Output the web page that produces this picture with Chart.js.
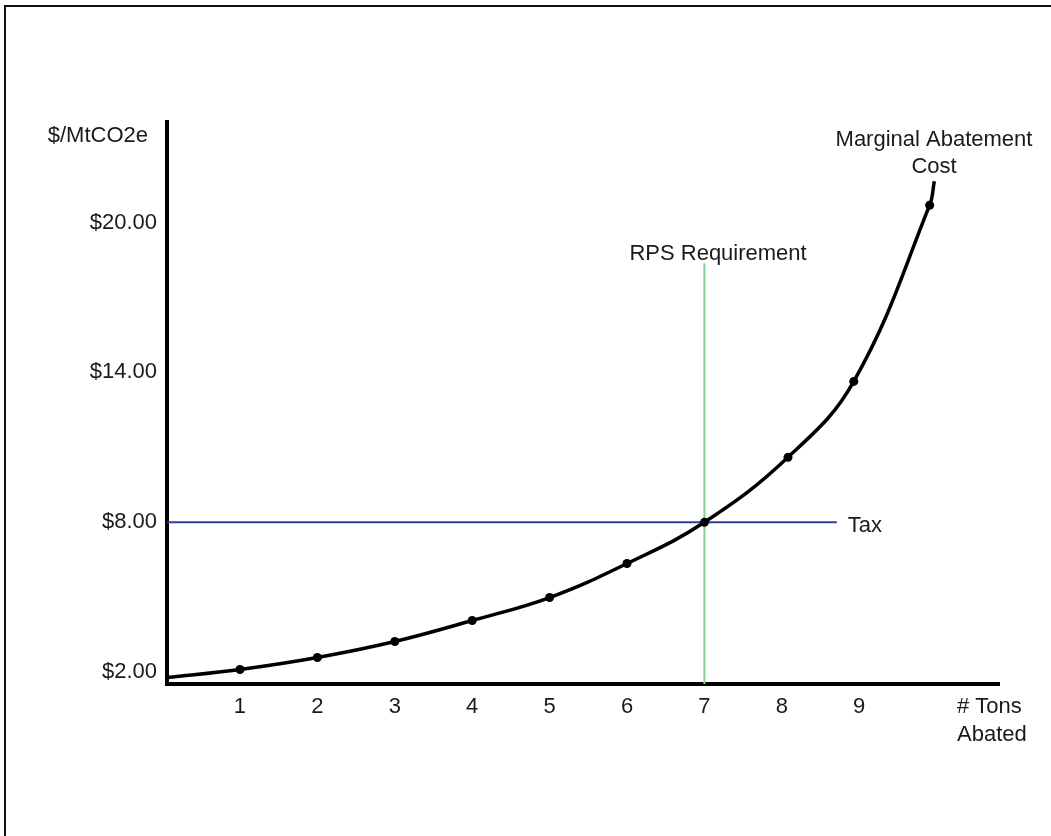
<!DOCTYPE html>
<html>
<head>
<meta charset="utf-8">
<script src="https://cdn.jsdelivr.net/npm/chart.js@4/dist/chart.umd.min.js"></script>
<style>
  html, body { margin: 0; padding: 0; background: #fff; overflow: hidden; }
  #frame { position: absolute; left: 4px; top: 5px; width: 1200px; height: 1000px; border: 2px solid #111; box-sizing: border-box; }
  #wrap { position: absolute; left: 0; top: 0; width: 1051px; height: 836px; }
</style>
</head>
<body>
<div id="frame"></div>
<div id="wrap"><canvas id="c" width="1051" height="836"></canvas></div>
<script>
// ---- data ----
const curveX = [0.06, 1, 2, 3, 4, 5, 6, 7, 8.08, 8.93, 9.91, 9.97];
const curveY = [1.79, 2.11, 2.59, 3.23, 4.07, 4.99, 6.35, 8.0, 10.6, 13.64, 20.69, 21.65];
const curveDots = [0, 1, 1, 1, 1, 1, 1, 1, 1, 1, 1, 0];
const xTickValues = [1, 2, 3, 4, 5, 6, 7, 8, 9];
const yTickValues = [2, 8, 14, 20];
const taxLevel = 8;
const taxRange = [0.06, 8.71];
const rpsLevel = 7;
const rpsRange = [1.53, 18.37];
const yTitle = '$/MtCO2e';
const xTitleLines = ['# Tons', 'Abated'];
const curveLabel = ['Marginal Abatement', 'Cost'];
const taxLabel = 'Tax';
const rpsLabel = 'RPS Requirement';

const FONT = '"Liberation Sans", Arial, sans-serif';
const TXT = '#1a1a1a';

const textPlugin = {
  id: 'textLabels',
  afterDraw(chart) {
    const { ctx, chartArea, scales } = chart;
    const x = scales.x, y = scales.y;
    ctx.save();
    ctx.font = '22px ' + FONT;
    ctx.fillStyle = TXT;
    ctx.textBaseline = 'alphabetic';
    // y axis title
    ctx.textAlign = 'right';
    ctx.fillText(yTitle, chartArea.left - 19, 142);
    // x axis title
    ctx.textAlign = 'left';
    ctx.fillText(xTitleLines[0], 957, 713);
    ctx.fillText(xTitleLines[1], 957, 741);
    // curve label
    ctx.textAlign = 'center';
    ctx.fillText(curveLabel[0], 934, 146);
    ctx.fillText(curveLabel[1], 934, 173);
    // tax label
    ctx.textAlign = 'left';
    ctx.fillText(taxLabel, x.getPixelForValue(taxRange[1]) + 11, y.getPixelForValue(taxLevel) + 10);
    // RPS label
    ctx.fillText(rpsLabel, x.getPixelForValue(rpsLevel) - 75, y.getPixelForValue(rpsRange[1]) - 3);
    ctx.restore();
  }
};

new Chart(document.getElementById('c'), {
  type: 'scatter',
  data: {
    datasets: [
      {
        label: 'Marginal Abatement Cost',
        data: curveX.map((v, i) => ({ x: v, y: curveY[i] })),
        showLine: true,
        borderColor: '#000',
        backgroundColor: '#000',
        borderWidth: 3.5,
        tension: 0.4,
        pointRadius: curveDots.map(d => d ? 4.5 : 0),
        pointBorderWidth: 0,
        pointBackgroundColor: '#000'
      },
      {
        label: 'Tax',
        data: taxRange.map(v => ({ x: v, y: taxLevel })),
        showLine: true,
        borderColor: '#2b3f97',
        borderWidth: 2,
        pointRadius: 0
      },
      {
        label: 'RPS Requirement',
        data: rpsRange.map(v => ({ x: rpsLevel, y: v })),
        showLine: true,
        borderColor: '#86cf94',
        borderWidth: 2,
        pointRadius: 0
      }
    ]
  },
  options: {
    responsive: false,
    animation: false,
    devicePixelRatio: 1,
    layout: { padding: { top: 122, right: 52, left: 0, bottom: 0 } },
    plugins: { legend: { display: false }, tooltip: { enabled: false }, title: { display: false } },
    scales: {
      x: {
        type: 'linear',
        min: 0.057,
        max: 10.806,
        grid: { display: false, drawTicks: false },
        border: { display: true, color: '#000', width: 4 },
        afterBuildTicks: s => { s.ticks = xTickValues.map(v => ({ value: v })); },
        afterFit: s => { s.height = 152; },
        ticks: { padding: 10, color: TXT, font: { family: FONT, size: 22 }, callback: v => String(v), maxRotation: 0, autoSkip: false }
      },
      y: {
        type: 'linear',
        min: 1.53,
        max: 24.02,
        grid: { display: false, drawTicks: false },
        border: { display: true, color: '#000', width: 4 },
        afterBuildTicks: s => { s.ticks = yTickValues.map(v => ({ value: v })); },
        afterFit: s => { s.width = 167; },
        ticks: { padding: 10, color: TXT, font: { family: FONT, size: 22 }, callback: v => '$' + Number(v).toFixed(2), autoSkip: false }
      }
    }
  },
  plugins: [textPlugin]
});
</script>
</body>
</html>
